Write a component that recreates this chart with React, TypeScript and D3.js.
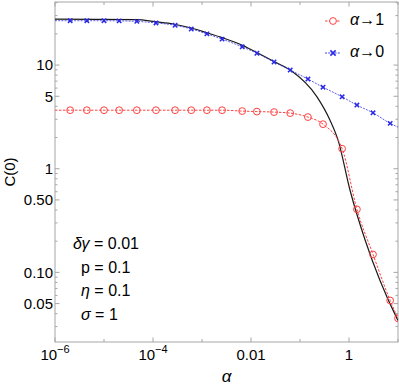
import React from 'react';
import * as d3 from 'd3';

// sample points shared by the two approximations (read off the markers)
const alphaPts = [2.04e-6, 4.47e-6, 1.0e-5, 2.04e-5, 4.68e-5, 1.15e-4, 2.82e-4, 6.03e-4, 1.26e-3, 2.57e-3,
  6.61e-3, 0.0132, 0.0295, 0.0631, 0.145, 0.295, 0.724, 1.45, 3.09, 6.92];

// alpha -> 0 approximation (blue, x markers)
const blueC = [26.8, 26.8, 26.8, 26.7, 26.4, 25.5, 24.2, 22.3, 20.0, 17.8,
  15.0, 13.0, 10.7, 8.95, 7.33, 6.12, 4.94, 4.11, 3.46, 2.74];
const blueEnds: [number, number][] = [[1e-6, 26.8], [10, 2.52]];

// alpha -> 1 approximation (red, open circles)
const redC = [3.67, 3.67, 3.67, 3.67, 3.67, 3.67, 3.67, 3.67, 3.67, 3.67,
  3.60, 3.56, 3.52, 3.44, 3.15, 2.69, 1.56, 0.406, 0.149, 0.0536];
const redEnds: [number, number][] = [[1e-6, 3.67], [10, 0.036]];

// exact result (black solid)
const exactAlpha = [1e-6, 4.7e-5, 1.1e-4, 2.6e-4, 5.8e-4, 1.26e-3, 2.57e-3, 6.9e-3, 9.5e-3, 0.031,
  0.063, 0.224, 0.41, 0.60, 1.05, 2.14, 4.27, 9.5, 10];
const exactC = [27.8, 27.5, 26.2, 24.9, 22.9, 20.5, 18.4, 15.4, 14.3, 10.7,
  8.95, 4.91, 2.94, 1.88, 0.62, 0.204, 0.0838, 0.036, 0.0343];

const xMajorExp = [-6, -4, -2, 0];
const xMinorExp = [-5, -3, -1, 1];
const yLabelled = [0.05, 0.1, 0.5, 1, 5, 10];
const params = [
  { sym: 'δγ', greek: true, val: '0.01' },
  { sym: 'p', greek: false, val: '0.1' },
  { sym: 'η', greek: true, val: '0.1' },
  { sym: 'σ', greek: true, val: '1' },
];

const W = 399;
const H = 388;
const left = 55, right = 398, top = 2, bottom = 342;
const font = 'Liberation Sans, Arial, Helvetica, sans-serif';
const frameColor = '#a6a6a6';
const red = '#ff4040';
const blue = '#2a2ae6';

export default function App() {
  const x = d3.scaleLog().domain([1e-6, 10]).range([left, right]);
  const y = d3.scaleLog().domain([0.0213, 40.6]).range([bottom, top]);

  const line = d3.line<[number, number]>()
    .x(d => x(d[0]))
    .y(d => y(d[1]))
    .curve(d3.curveMonotoneX);

  const bluePts: [number, number][] = [blueEnds[0], ...alphaPts.map((a, i) => [a, blueC[i]] as [number, number]), blueEnds[1]];
  const redPts: [number, number][] = [redEnds[0], ...alphaPts.map((a, i) => [a, redC[i]] as [number, number]), redEnds[1]];
  const exactPts: [number, number][] = exactAlpha.map((a, i) => [a, exactC[i]]);
  const redMarks: [number, number][] = [...alphaPts.map((a, i) => [a, redC[i]] as [number, number]), redEnds[1]];

  // y ticks: every 1..9 x 10^k inside the domain
  const yTicks: { v: number; major: boolean }[] = [];
  for (let e = -2; e <= 1; e++) {
    for (let m = 1; m <= 9; m++) {
      const v = m * Math.pow(10, e);
      if (v >= 0.0213 && v <= 40.6) yTicks.push({ v, major: m === 1 || m === 5 });
    }
  }
  const fmtY = (v: number) => (v >= 1 ? String(Math.round(v)) : v.toFixed(2));

  const xTicks = [
    ...xMajorExp.map(e => ({ v: Math.pow(10, e), major: true })),
    ...xMinorExp.map(e => ({ v: Math.pow(10, e), major: false })),
  ];

  const xLabel = (e: number) => {
    if (e === -2) return <tspan>0.01</tspan>;
    if (e === 0) return <tspan>1</tspan>;
    return (
      <>
        <tspan>10</tspan>
        <tspan fontSize={11} dy={-7}>{'\u2212' + Math.abs(e)}</tspan>
      </>
    );
  };

  const cross = (cx: number, cy: number, s: number) =>
    `M${cx - s},${cy - s}L${cx + s},${cy + s}M${cx - s},${cy + s}L${cx + s},${cy - s}`;

  return (
    <svg width={W} height={H} style={{ position: 'fixed', left: 0, top: 0, background: '#fff' }}
      fontFamily={font}>
      <defs>
        <clipPath id="plot">
          <rect x={left} y={top} width={right - left} height={bottom - top} />
        </clipPath>
      </defs>

      {/* frame */}
      <rect x={left} y={top} width={right - left} height={bottom - top} fill="none" stroke={frameColor} strokeWidth={1} />

      {/* y ticks on both sides */}
      {yTicks.map((t, i) => {
        const len = t.major ? 4.5 : 2.5;
        const yy = y(t.v);
        return (
          <g key={'yt' + i} stroke={frameColor} strokeWidth={1}>
            <line x1={left} x2={left + len} y1={yy} y2={yy} />
            <line x1={right} x2={right - len} y1={yy} y2={yy} />
          </g>
        );
      })}
      {yLabelled.map(v => (
        <text key={'yl' + v} x={53} y={y(v)} dy="0.36em" textAnchor="end" fontSize={15} fill="#000">{fmtY(v)}</text>
      ))}

      {/* x ticks top and bottom */}
      {xTicks.map((t, i) => {
        const len = t.major ? 4.5 : 3;
        const xx = x(t.v);
        return (
          <g key={'xt' + i} stroke={frameColor} strokeWidth={1}>
            <line x1={xx} x2={xx} y1={bottom} y2={bottom - len} />
            <line x1={xx} x2={xx} y1={top} y2={top + len} />
          </g>
        );
      })}
      {xMajorExp.map(e => (
        <text key={'xl' + e} x={x(Math.pow(10, e))} y={360} textAnchor="middle" fontSize={15} fill="#000">{xLabel(e)}</text>
      ))}

      {/* axis labels */}
      <text x={(left + right) / 2} y={382} textAnchor="middle" fontSize={17} fontStyle="italic">α</text>
      <text transform={`translate(15,${(top + bottom) / 2}) rotate(-90)`} textAnchor="middle" fontSize={15}>C(0)</text>

      {/* curves */}
      <g clipPath="url(#plot)">
        <path d={line(exactPts) ?? ''} fill="none" stroke="#1a1a1a" strokeWidth={1.2} />
        <path d={line(bluePts) ?? ''} fill="none" stroke={blue} strokeWidth={0.9} strokeDasharray="2,1.2" opacity={0.85} />
        <path d={line(redPts) ?? ''} fill="none" stroke={red} strokeWidth={1} strokeDasharray="2.5,1.5" />
        {redMarks.map((d, i) => (
          <circle key={'rm' + i} cx={x(d[0])} cy={y(d[1])} r={3.4} fill="none" stroke={red} strokeWidth={1} />
        ))}
        {alphaPts.map((a, i) => (
          <path key={'bm' + i} d={cross(x(a), y(blueC[i]), 2.2)} stroke={blue} strokeWidth={1.5} fill="none" />
        ))}
      </g>

      {/* legend */}
      <g>
        <line x1={325} x2={341} y1={21} y2={21} stroke={red} strokeWidth={1} strokeDasharray="2.5,1.5" />
        <circle cx={333} cy={21} r={3.4} fill="#fff" stroke={red} strokeWidth={1} />
        <text x={350} y={25} fontSize={16}><tspan fontStyle="italic">α</tspan>{'\u2192'}1</text>
        <line x1={325} x2={341} y1={53} y2={53} stroke={blue} strokeWidth={0.9} strokeDasharray="2,1.2" />
        <path d={cross(333, 53, 2.6)} stroke={blue} strokeWidth={1.6} fill="none" />
        <text x={350} y={57} fontSize={16}><tspan fontStyle="italic">α</tspan>{'\u2192'}0</text>
      </g>

      {/* parameters */}
      {params.map((p, i) => (
        <text key={p.sym} x={i === 0 ? 73 : 81} y={249 + i * 23.5} fontSize={16}>
          <tspan fontStyle={p.greek ? 'italic' : 'normal'}>{p.sym}</tspan>
          <tspan>{' = ' + p.val}</tspan>
        </text>
      ))}
    </svg>
  );
}
